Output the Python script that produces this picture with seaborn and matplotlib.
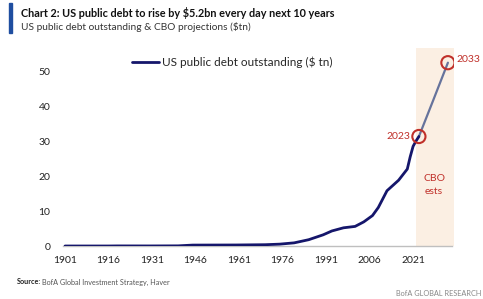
import matplotlib
matplotlib.use("Agg")
import matplotlib.pyplot as plt
import seaborn as sns
import pandas as pd
from matplotlib.patches import Rectangle

# ---- data ----
hist_years = [1901, 1916, 1919, 1930, 1940, 1945, 1960, 1970, 1975, 1980, 1985,
              1990, 1993, 1997, 2001, 2004, 2007, 2009, 2012, 2016, 2019, 2020,
              2021, 2022, 2023]
hist_debt = [0.001, 0.001, 0.025, 0.016, 0.043, 0.26, 0.29, 0.37, 0.53, 0.9, 1.8,
             3.2, 4.3, 5.2, 5.6, 6.9, 8.7, 11.0, 15.8, 18.8, 22.0, 25.5,
             28.5, 30.0, 31.3]
proj_years = [2023, 2028, 2033]
proj_debt = [31.3, 41.8, 52.4]
marked_years = [2023, 2033]
marked_debt = [31.3, 52.4]
xtick_years = [1901, 1916, 1931, 1946, 1961, 1976, 1991, 2006, 2021]
ytick_vals = [0, 10, 20, 30, 40, 50]
cbo_start, cbo_end = 2022.0, 2035.1

hist = pd.DataFrame({"year": hist_years, "debt": hist_debt})
proj = pd.DataFrame({"year": proj_years, "debt": proj_debt})

sns.set_theme(style="white")
plt.rcParams["font.family"] = ["Lato", "DejaVu Sans"]

W, H = 483, 299
fig = plt.figure(figsize=(W / 100, H / 100), dpi=100)
ax = fig.add_axes([63 / W, 1 - 246 / H, (454 - 63) / W, (246 - 48) / H])

RED = "#c0302a"
NAVY = "#15166b"

ax.axvspan(cbo_start, cbo_end, color="#fbefe3", zorder=0, lw=0)

sns.lineplot(data=proj, x="year", y="debt", ax=ax, color="#66739c", lw=1.6,
             zorder=3)
sns.lineplot(data=hist, x="year", y="debt", ax=ax, color=NAVY, lw=2.0,
             label="US public debt outstanding ($ tn)", zorder=4)

ax.scatter(marked_years, marked_debt, s=90, facecolors="none",
           edgecolors=RED, linewidths=1.5, zorder=5)
ax.annotate(str(marked_years[0]), (marked_years[0], marked_debt[0]),
            xytext=(-6, 0), textcoords="offset points", ha="right",
            va="center", color=RED, fontsize=7.5)
ax.annotate(str(marked_years[1]), (marked_years[1], marked_debt[1]),
            xytext=(6, 2), textcoords="offset points", ha="left",
            va="center", color=RED, fontsize=7.5)
ax.text((cbo_start + cbo_end) / 2 - 0.3, 17.5, "CBO\nests", ha="center",
        va="center", color=RED, fontsize=7.5, linespacing=1.6)

ax.set_xlim(1900.3, 2035.1)
ax.set_ylim(0, 56.6)
ax.set_xticks(xtick_years)
ax.set_yticks(ytick_vals)
ax.tick_params(axis="both", length=0, labelsize=7.5, colors="#222222")
ax.tick_params(axis="x", pad=7)
ax.tick_params(axis="y", pad=9)
ax.set_xlabel("")
ax.set_ylabel("")
for s in ["top", "right", "left"]:
    ax.spines[s].set_visible(False)
ax.spines["bottom"].set_color("#bfbfbf")
ax.spines["bottom"].set_linewidth(1.0)
ax.spines["bottom"].set_bounds(1900.3, 2034.4)
ax.grid(False)

leg = ax.legend(loc="upper left", bbox_to_anchor=(0.165, 0.98), frameon=False,
                fontsize=8.5, handlelength=2.3, handletextpad=0.2,
                borderaxespad=0)

# titles and notes
fig.patches.append(Rectangle((9 / W, 1 - 33 / H), 3 / W, 30 / H,
                             transform=fig.transFigure, color="#1f4ea0"))
fig.text(21 / W, 1 - 13 / H, "Chart 2: US public debt to rise by $5.2bn every day next 10 years",
         fontsize=7.8, fontweight="bold", va="center", ha="left", color="#111111")
fig.text(21 / W, 1 - 27 / H, "US public debt outstanding & CBO projections ($tn)",
         fontsize=7.3, va="center", ha="left", color="#333333")
fig.text(17 / W, 1 - 282 / H, "Source:", fontsize=5.2, fontweight="bold",
         va="center", ha="left", color="#222222")
fig.text(42 / W, 1 - 282 / H, "BofA Global Investment Strategy, Haver",
         fontsize=5.2, va="center", ha="left", color="#555555")
fig.text(481 / W, 1 - 294 / H, "BofA GLOBAL RESEARCH", fontsize=5.3,
         va="center", ha="right", color="#888888")

fig.savefig("out.png", dpi=100)
